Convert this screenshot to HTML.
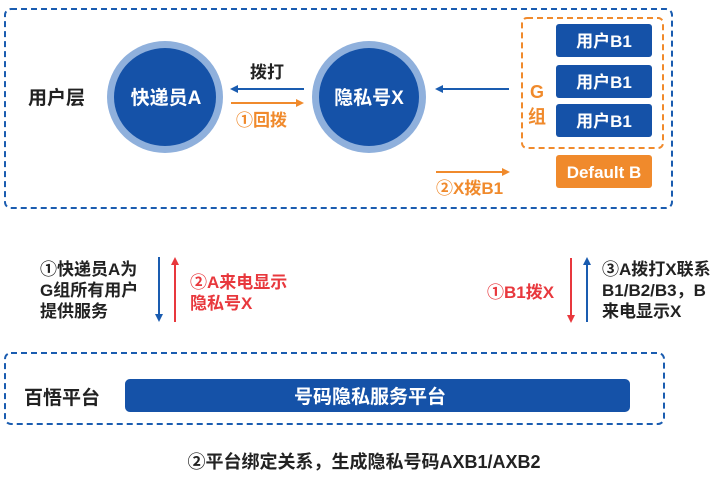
<!DOCTYPE html>
<html><head><meta charset="utf-8"><style>
body{margin:0;background:#fff;width:720px;height:474px;overflow:hidden;font-family:"Liberation Sans","Noto Sans CJK SC",sans-serif}
</style></head><body>
<svg width="720" height="474" xmlns="http://www.w3.org/2000/svg" font-family="Liberation Sans, Noto Sans CJK SC, sans-serif" font-weight="bold">
<defs>
<marker id="b" markerWidth="8" markerHeight="8" refX="6" refY="4" orient="auto" markerUnits="userSpaceOnUse"><path d="M0,0 L8,4 L0,8 Z" fill="#1a5cb0"/></marker>
<marker id="o" markerWidth="8" markerHeight="8" refX="6" refY="4" orient="auto" markerUnits="userSpaceOnUse"><path d="M0,0 L8,4 L0,8 Z" fill="#f08a2c"/></marker>
<marker id="r" markerWidth="8" markerHeight="8" refX="6" refY="4" orient="auto" markerUnits="userSpaceOnUse"><path d="M0,0 L8,4 L0,8 Z" fill="#e8383d"/></marker>
</defs>
<rect x="5" y="9" width="667" height="199" rx="6" fill="none" stroke="#1a5cb0" stroke-width="2" stroke-dasharray="6,4"/>
<text x="28" y="104" font-size="19" fill="#222">用户层</text>
<ellipse cx="165" cy="97" rx="58" ry="56" fill="#8fb0dc"/>
<ellipse cx="165" cy="97" rx="51" ry="49" fill="#1552a8"/>
<text x="166" y="104" font-size="19" fill="#fff" text-anchor="middle">快递员A</text>
<ellipse cx="369" cy="97" rx="57" ry="56" fill="#8fb0dc"/>
<ellipse cx="369" cy="97" rx="50" ry="49" fill="#1552a8"/>
<text x="369" y="104" font-size="19" fill="#fff" text-anchor="middle">隐私号X</text>
<line x1="304" y1="89" x2="232" y2="89" stroke="#1a5cb0" stroke-width="2" marker-end="url(#b)"/>
<text x="267" y="78" font-size="17" fill="#222" text-anchor="middle">拨打</text>
<line x1="231" y1="103" x2="302" y2="103" stroke="#f08a2c" stroke-width="2" marker-end="url(#o)"/>
<text x="236" y="126" font-size="17" fill="#f08a2c">①回拨</text>
<line x1="509" y1="89" x2="437" y2="89" stroke="#1a5cb0" stroke-width="2" marker-end="url(#b)"/>
<rect x="522" y="18" width="141" height="130" rx="5" fill="none" stroke="#f08a2c" stroke-width="2" stroke-dasharray="6,4"/>
<text x="537" y="98" font-size="18" fill="#f08a2c" text-anchor="middle">G</text>
<text x="537" y="123" font-size="18" fill="#f08a2c" text-anchor="middle">组</text>
<rect x="556" y="24" width="96" height="33" rx="3" fill="#1552a8"/>
<text x="604" y="47" font-size="17" fill="#fff" text-anchor="middle">用户B1</text>
<rect x="556" y="65" width="96" height="33" rx="3" fill="#1552a8"/>
<text x="604" y="88" font-size="17" fill="#fff" text-anchor="middle">用户B1</text>
<rect x="556" y="104" width="96" height="33" rx="3" fill="#1552a8"/>
<text x="604" y="127" font-size="17" fill="#fff" text-anchor="middle">用户B1</text>
<rect x="556" y="155" width="96" height="33" rx="3" fill="#f08a2c"/>
<text x="604" y="178" font-size="17" fill="#fff" text-anchor="middle">Default B</text>
<line x1="436" y1="172" x2="508" y2="172" stroke="#f08a2c" stroke-width="2" marker-end="url(#o)"/>
<text x="436" y="194" font-size="17" fill="#f08a2c">②X拨B1</text>
<line x1="159" y1="257" x2="159" y2="320" stroke="#1a5cb0" stroke-width="2" marker-end="url(#b)"/>
<line x1="175" y1="322" x2="175" y2="259" stroke="#e8383d" stroke-width="2" marker-end="url(#r)"/>
<text font-size="17" fill="#222"><tspan x="40" y="275">①快递员A为</tspan><tspan x="40" y="296">G组所有用户</tspan><tspan x="40" y="317">提供服务</tspan></text>
<text font-size="17" fill="#e8383d"><tspan x="190" y="288">②A来电显示</tspan><tspan x="190" y="309">隐私号X</tspan></text>
<line x1="571" y1="258" x2="571" y2="321" stroke="#e8383d" stroke-width="2" marker-end="url(#r)"/>
<line x1="587" y1="322" x2="587" y2="259" stroke="#1a5cb0" stroke-width="2" marker-end="url(#b)"/>
<text x="487" y="298" font-size="17" fill="#e8383d">①B1拨X</text>
<text font-size="17" fill="#222"><tspan x="602" y="275">③A拨打X联系</tspan><tspan x="602" y="296">B1/B2/B3，B</tspan><tspan x="602" y="317">来电显示X</tspan></text>
<rect x="5" y="353" width="659" height="71" rx="6" fill="none" stroke="#1a5cb0" stroke-width="2" stroke-dasharray="6,4"/>
<text x="24" y="404" font-size="19" fill="#222">百悟平台</text>
<rect x="125" y="379" width="505" height="33" rx="5" fill="#1552a8"/>
<text x="370" y="403" font-size="19" fill="#fff" text-anchor="middle">号码隐私服务平台</text>
<text x="364" y="468" font-size="18" fill="#222" text-anchor="middle">②平台绑定关系，生成隐私号码AXB1/AXB2</text>
</svg>
</body></html>
